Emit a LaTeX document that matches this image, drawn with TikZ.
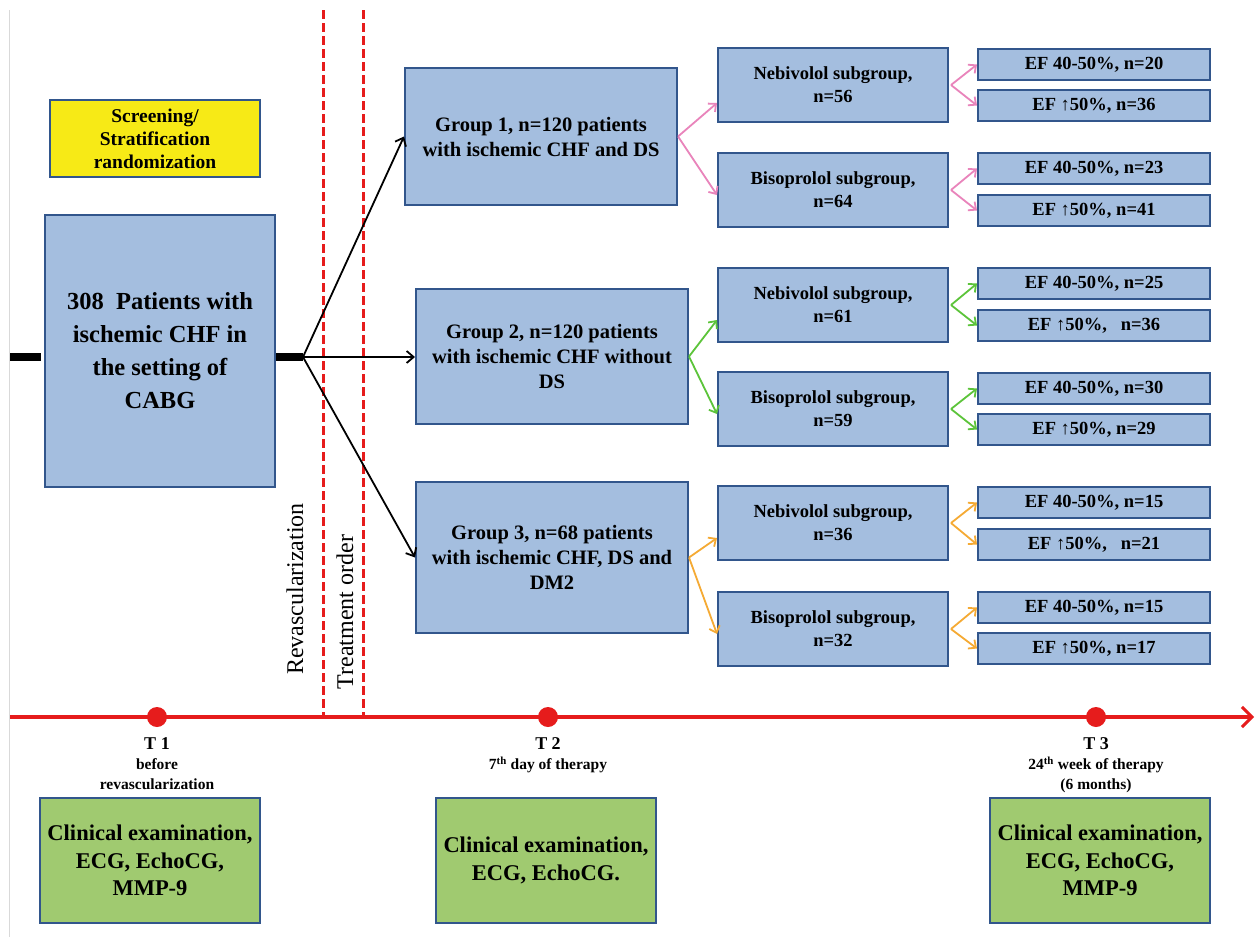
\documentclass[tikz,border=0pt]{standalone}
\usepackage{fontspec}
\setmainfont{Liberation Serif}
\usetikzlibrary{arrows.meta}
\definecolor{boxfill}{RGB}{164,190,223}
\definecolor{boxline}{RGB}{50,86,140}
\definecolor{yelfill}{RGB}{247,234,22}
\definecolor{grnfill}{RGB}{160,202,112}
\definecolor{pinkar}{RGB}{233,132,187}
\definecolor{grnar}{RGB}{92,196,58}
\definecolor{orgar}{RGB}{245,170,52}
\definecolor{tlred}{RGB}{230,28,28}
\tikzset{
  basebox/.style={draw=boxline, line width=2pt, align=center, inner sep=2pt, font=\bfseries},
  bluebox/.style={basebox, fill=boxfill},
  yelbox/.style={basebox, fill=yelfill},
  grnbox/.style={basebox, fill=grnfill},
  grpbox/.style={bluebox, minimum width=272pt, font=\bfseries\fontsize{20.5}{25}\selectfont},
  subbox/.style={bluebox, minimum width=230pt, minimum height=74pt, font=\bfseries\fontsize{18.5}{23}\selectfont},
  efbox/.style={bluebox, minimum width=232pt, minimum height=31pt, font=\bfseries\fontsize{18.5}{20}\selectfont},
  exbox/.style={grnbox, minimum width=220pt, minimum height=125pt, font=\bfseries\fontsize{22.5}{27.5}\selectfont},
  blkarrow/.style={black, line width=1.8pt, -{Straight Barb[length=7pt,width=12pt,line width=1.8pt]}},
  colarrow/.style={#1, line width=1.8pt, -{Straight Barb[length=6pt,width=11pt,line width=1.8pt]}},
  stub/.style={black, line width=8pt},
  reddash/.style={tlred, line width=3pt, dash pattern=on 9pt off 4pt},
  dot/.style={circle, fill=tlred, inner sep=0pt, minimum size=20pt},
  tlbl/.style={align=center, anchor=north, font=\bfseries\fontsize{15.5}{20}\selectfont},
  vtext/.style={rotate=90, font=\fontsize{24}{26}\selectfont},
}
\begin{document}
\begin{tikzpicture}[x=1pt, y=-1pt]
\useasboundingbox[fill=white] (0,0) rectangle (1256,937);
% faint frame line
\coordinate (fr0) at (9,10);
\coordinate (fr1) at (9,937);
\draw[gray!30, line width=1pt] (fr0) -- (fr1);

% red dashed separators
\coordinate (d1t) at (323,10);
\coordinate (d1b) at (323,717);
\coordinate (d2t) at (363,10);
\coordinate (d2b) at (363,717);
\draw[reddash] (d1t) -- (d1b);
\draw[reddash] (d2t) -- (d2b);
\node[vtext] (rev) at (295,589) {Revascularization};
\node[vtext] (tro) at (345,612) {Treatment order};

% left part
\node[yelbox, minimum width=210pt, minimum height=77pt, font=\bfseries\fontsize{19.5}{23}\selectfont] (scr) at (155,138.5) {Screening/\\Stratification\\randomization};
\node[bluebox, minimum width=230pt, minimum height=272pt, font=\bfseries\fontsize{24.5}{33}\selectfont] (main) at (160,351) {308\ \ Patients with\\ischemic CHF in\\the setting of\\CABG};
\coordinate (lstub) at (10,357);
\coordinate (split) at (303,357);
\draw[stub] (lstub) -- ([xshift=-3pt]main.west |- lstub);
\draw[stub] (main.east |- split) -- (split);

% groups
\node[grpbox, minimum height=137pt] (g1) at (541,136.5) {Group 1, n=120 patients\\with ischemic CHF and DS};
\node[grpbox, minimum height=135pt] (g2) at (552,356.5) {Group 2, n=120 patients\\with ischemic CHF without\\DS};
\node[grpbox, minimum height=151pt] (g3) at (552,557.5) {Group 3, n=68 patients\\with ischemic CHF, DS and\\DM2};
\draw[blkarrow] (split) -- (g1.west);
\draw[blkarrow] (split) -- (g2.west |- split);
\draw[blkarrow] (split) -- (g3.west);

% subgroups
\node[subbox] (n1) at (833,85) {Nebivolol subgroup,\\n=56};
\node[subbox] (b1) at (833,190) {Bisoprolol subgroup,\\n=64};
\node[subbox] (n2) at (833,305) {Nebivolol subgroup,\\n=61};
\node[subbox] (b2) at (833,409) {Bisoprolol subgroup,\\n=59};
\node[subbox] (n3) at (833,523) {Nebivolol subgroup,\\n=36};
\node[subbox] (b3) at (833,629) {Bisoprolol subgroup,\\n=32};

\draw[colarrow=pinkar] (g1.east) -- ([yshift=-18pt]n1.west);
\draw[colarrow=pinkar] (g1.east) -- ([yshift=-5pt]b1.west);
\draw[colarrow=grnar] (g2.east) -- ([yshift=-15pt]n2.west);
\draw[colarrow=grnar] (g2.east) -- ([yshift=-5pt]b2.west);
\draw[colarrow=orgar] (g3.east) -- ([yshift=-15pt]n3.west);
\draw[colarrow=orgar] (g3.east) -- ([yshift=-5pt]b3.west);

% EF boxes
\node[efbox] (e1a) at (1094,64.5) {EF 40-50\%, n=20};
\node[efbox] (e1b) at (1094,105.5) {EF ↑50\%, n=36};
\node[efbox] (e1c) at (1094,168.5) {EF 40-50\%, n=23};
\node[efbox] (e1d) at (1094,210.5) {EF ↑50\%, n=41};
\node[efbox] (e2a) at (1094,283.5) {EF 40-50\%, n=25};
\node[efbox] (e2b) at (1094,325.5) {EF ↑50\%,\ \ \ n=36};
\node[efbox] (e2c) at (1094,388.5) {EF 40-50\%, n=30};
\node[efbox] (e2d) at (1094,429.5) {EF ↑50\%, n=29};
\node[efbox] (e3a) at (1094,502.5) {EF 40-50\%, n=15};
\node[efbox] (e3b) at (1094,544.5) {EF ↑50\%,\ \ \ n=21};
\node[efbox] (e3c) at (1094,607.5) {EF 40-50\%, n=15};
\node[efbox] (e3d) at (1094,648.5) {EF ↑50\%, n=17};

\draw[colarrow=pinkar] ([xshift=2pt]n1.east) -- (e1a.west);
\draw[colarrow=pinkar] ([xshift=2pt]n1.east) -- (e1b.west);
\draw[colarrow=pinkar] ([xshift=2pt]b1.east) -- (e1c.west);
\draw[colarrow=pinkar] ([xshift=2pt]b1.east) -- (e1d.west);
\draw[colarrow=grnar] ([xshift=2pt]n2.east) -- (e2a.west);
\draw[colarrow=grnar] ([xshift=2pt]n2.east) -- (e2b.west);
\draw[colarrow=grnar] ([xshift=2pt]b2.east) -- (e2c.west);
\draw[colarrow=grnar] ([xshift=2pt]b2.east) -- (e2d.west);
\draw[colarrow=orgar] ([xshift=2pt]n3.east) -- (e3a.west);
\draw[colarrow=orgar] ([xshift=2pt]n3.east) -- (e3b.west);
\draw[colarrow=orgar] ([xshift=2pt]b3.east) -- (e3c.west);
\draw[colarrow=orgar] ([xshift=2pt]b3.east) -- (e3d.west);

% timeline
\coordinate (tl0) at (10,717);
\coordinate (tl1) at (1254,717);
\draw[tlred, line width=4pt, -{Straight Barb[length=10pt,width=20pt,line width=3pt]}] (tl0) -- (tl1);
\node[dot] (t1) at (157,717) {};
\node[dot] (t2) at (548,717) {};
\node[dot] (t3) at (1096,717) {};
\node[tlbl] (l1) at (157,734) {{\fontsize{18}{20}\selectfont T 1}\\before\\revascularization};
\node[tlbl] (l2) at (548,734) {{\fontsize{18}{20}\selectfont T 2}\\7\textsuperscript{th} day of therapy};
\node[tlbl] (l3) at (1096,734) {{\fontsize{18}{20}\selectfont T 3}\\24\textsuperscript{th} week of therapy\\(6 months)};

% examination boxes
\node[exbox] (x1) at (150,860.5) {Clinical examination,\\ECG, EchoCG,\\MMP-9};
\node[exbox] (x2) at (546,860.5) {Clinical examination,\\ECG, EchoCG.};
\node[exbox] (x3) at (1100,860.5) {Clinical examination,\\ECG, EchoCG,\\MMP-9};
\end{tikzpicture}
\end{document}
